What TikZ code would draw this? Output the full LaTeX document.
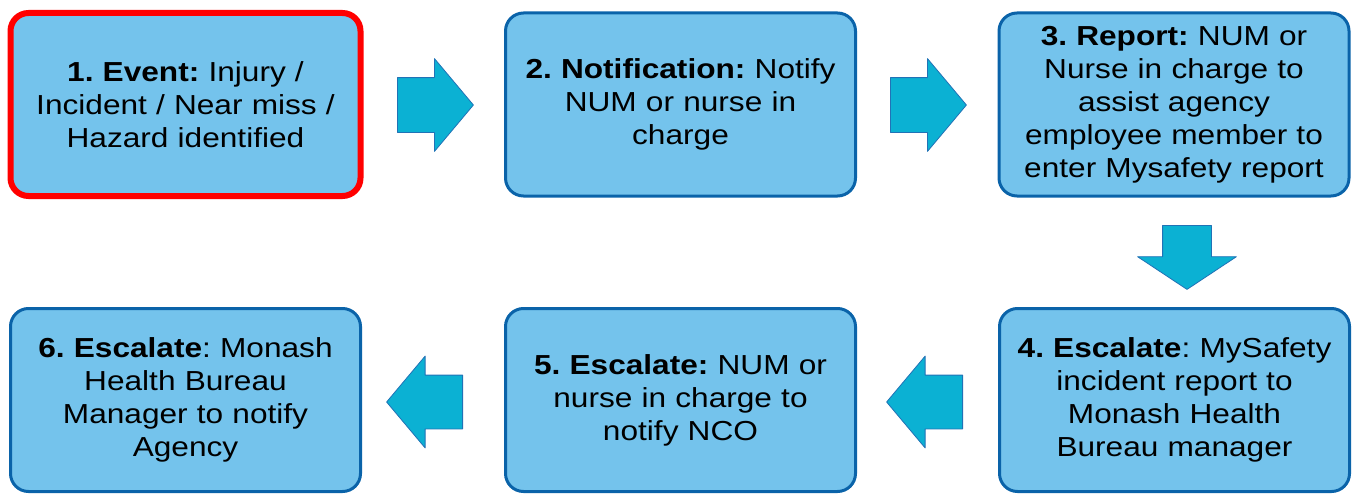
\documentclass[tikz,border=0pt]{standalone}
\usepackage{fontspec}
\setmainfont{Liberation Sans}[FakeStretch=1.15]
\usetikzlibrary{shapes.arrows}
\definecolor{boxfill}{HTML}{74C3EC}
\definecolor{boxline}{HTML}{0A63A9}
\definecolor{arrfill}{HTML}{0BB1D3}
\definecolor{arrline}{HTML}{2172B6}
\tikzset{
  stepbox/.style={draw=boxline, line width=3pt, fill=boxfill, rounded corners=18pt,
    minimum width=350pt, minimum height=183pt, text width=345pt, align=center,
    font=\fontsize{27.5}{33}\selectfont, inner sep=0pt},
  firstbox/.style={stepbox, draw=red, line width=6pt},
  blockarrow/.style={single arrow, draw=arrline, line width=0.8pt, fill=arrfill,
    inner sep=0pt, single arrow head extend=19pt, single arrow tip angle=100,
    minimum height=76pt, anchor=tail},
}
\frenchspacing
\begin{document}
\begin{tikzpicture}[x=1pt,y=-1pt, line join=round]
  \useasboundingbox (0,0) rectangle (1354,495);
  % top row
  \node[firstbox] (event) at (185.5,104.5) {\textbf{1. Event:} Injury /\\ Incident / Near miss /\\ Hazard identified};
  \node[stepbox] (notif) at (680.5,104.5) {\textbf{2. Notification:} Notify\\ NUM or nurse in\\ charge};
  \node[stepbox] (report) at (1174,104.5) {\textbf{3. Report:} NUM or\\ Nurse in charge to\\ assist agency\\ employee member to\\ enter Mysafety report};
  % bottom row
  \node[stepbox] (esc4) at (1174.5,400) {\textbf{4. Escalate}: MySafety\\ incident report to\\ Monash Health\\ Bureau manager};
  \node[stepbox] (esc5) at (680.5,400) {\textbf{5. Escalate:} NUM or\\ nurse in charge to\\ notify NCO};
  \node[stepbox] (esc6) at (185.5,400) {\textbf{6. Escalate}: Monash\\ Health Bureau\\ Manager to notify\\ Agency};
  % block arrows
  \node[blockarrow] (a12) at (397,105) {\rule{0pt}{54pt}};
  \node[blockarrow] (a23) at (890,105) {\rule{0pt}{54pt}};
  \node[blockarrow, rotate=-90, minimum height=64pt, single arrow head extend=25pt, single arrow tip angle=113] (a34) at (1187,225) {\rule{0pt}{48pt}};
  \node[blockarrow, shape border rotate=180] (a45) at (963,402) {\rule{0pt}{53pt}};
  \node[blockarrow, shape border rotate=180] (a56) at (463,402) {\rule{0pt}{53pt}};
\end{tikzpicture}
\end{document}
